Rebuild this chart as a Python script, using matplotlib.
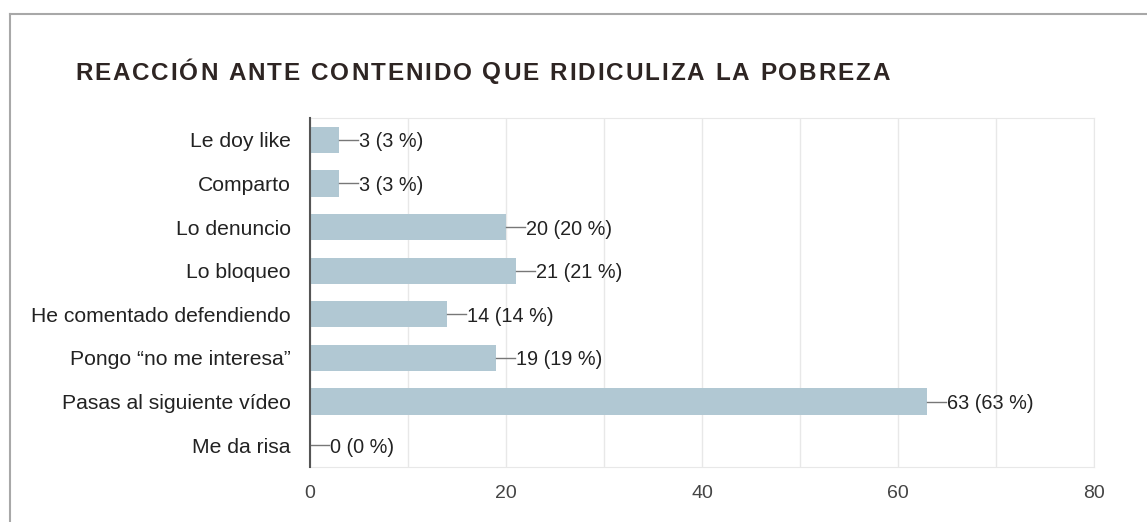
import matplotlib.pyplot as plt
import numpy as np

plt.rcParams['font.family'] = ['Liberation Sans', 'DejaVu Sans']

categories = ['Le doy like', 'Comparto', 'Lo denuncio', 'Lo bloqueo',
              'He comentado defendiendo', 'Pongo \u201cno me interesa\u201d',
              'Pasas al siguiente vídeo', 'Me da risa']
counts = [3, 3, 20, 21, 14, 19, 63, 0]
percents = [3, 3, 20, 21, 14, 19, 63, 0]
title = 'REACCIÓN ANTE CONTENIDO QUE RIDICULIZA LA POBREZA'

W, H = 1147, 522
fig = plt.figure(figsize=(W / 100, H / 100), dpi=100)
fig.patch.set_facecolor('white')

# outer frame (top and left edges visible)
fig.add_artist(plt.Line2D([10 / W, 1], [1 - 14 / H, 1 - 14 / H], color='#a8a8a8', lw=1.5))
fig.add_artist(plt.Line2D([10 / W, 10 / W], [0, 1 - 14 / H], color='#a8a8a8', lw=1.5))

ax = fig.add_axes([310 / W, 1 - 467 / H, (1094 - 310) / W, (467 - 118) / H])
y = np.arange(len(categories))
ax.barh(y, counts, height=0.6, color='#b1c8d3', zorder=2)
ax.set_ylim(len(categories) - 0.5, -0.5)
ax.set_xlim(0, 80)
ax.set_xticks([0, 20, 40, 60, 80])
ax.set_xticks([10, 30, 50, 70], minor=True)
ax.grid(axis='x', which='both', color='#e8e8e8', lw=1, zorder=0)
ax.set_yticks(y)
ax.set_yticklabels(categories, va='center_baseline')
ax.tick_params(axis='y', length=0, pad=14, labelsize=15.2, labelcolor='#222222')
ax.tick_params(axis='x', which='both', length=0, pad=13, labelsize=14, labelcolor='#444444')
for s in ['top', 'right', 'bottom']:
    ax.spines[s].set_color('#e8e8e8')
ax.spines['left'].set_color('#555555')
ax.spines['left'].set_linewidth(1.5)
ax.spines['left'].set_zorder(3)

# value labels with leader lines
px = 80 / (1094 - 310)
for i, (c, p) in enumerate(zip(counts, percents)):
    ax.plot([c, c + 19 * px], [i, i], color='#777777', lw=1, zorder=3)
    ax.text(c + 20 * px, i, f'{c} ({p} %)', va='center_baseline', ha='left',
            fontsize=14.3, color='#222222')

# title with letter spacing
renderer = fig.canvas.get_renderer()
x = 75
for ch in title:
    t = fig.text(x / W, 1 - 73 / H, ch, fontsize=17.5, fontweight='bold',
                 color='#2e2523', va='center', ha='left')
    if ch == ' ':
        w = 7
        t.set_text('')
    else:
        w = t.get_window_extent(renderer).width
    x += w + 1.9

fig.savefig('out.png', dpi=100)
